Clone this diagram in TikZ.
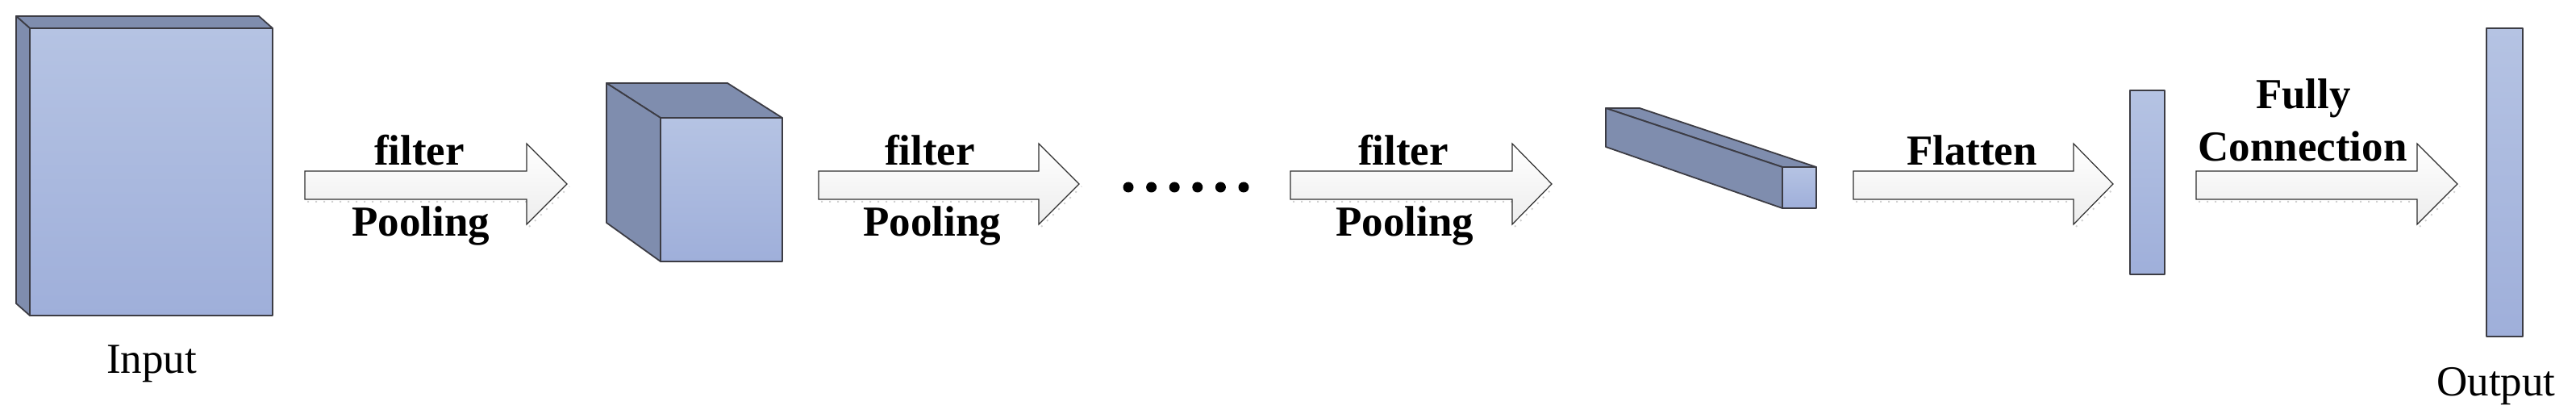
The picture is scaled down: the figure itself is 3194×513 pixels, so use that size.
\documentclass[tikz,border=0pt]{standalone}
\usepackage{fontspec}
\setmainfont{Liberation Serif}
\definecolor{sidec}{HTML}{7F8DAE}
\definecolor{frontt}{HTML}{B5C3E3}
\definecolor{frontb}{HTML}{9FAFDA}
\definecolor{edgec}{HTML}{3C3C44}
\definecolor{arrb}{HTML}{EDEDED}
\definecolor{arredge}{HTML}{303030}
\tikzset{
  sideface/.style={fill=sidec, draw=edgec, line width=0.45pt, line join=round},
  frontface/.style={top color=frontt, bottom color=frontb, draw=edgec, line width=0.45pt, line join=round},
  blockarrow/.style={top color=white, bottom color=arrb, draw=arredge, line width=0.3pt, line join=miter},
  arrshadow/.style={draw=black!18, line width=0.5pt, dotted},
  lab/.style={font=\bfseries\fontsize{13.25}{16.25}\selectfont, inner sep=0pt, anchor=base},
  capt/.style={font=\fontsize{13.25}{16.25}\selectfont, inner sep=0pt, anchor=base},
}
\newcommand\myblockarrow[4]{%
  \draw[arrshadow] (#2+3,250) -- (#3+3,250) (#3+3,281) -- (#4+3,231);
  \draw[blockarrow] (#2,212) coordinate (#1s) -- (#3,212) -- (#3,178) -- (#4,228) coordinate (#1t) -- (#3,278) -- (#3,247) -- (#2,247) -- cycle;
}
\begin{document}
\begin{tikzpicture}[x=0.25pt, y=-0.25pt]
\useasboundingbox (0,0) rectangle (3194,513);

% Input volume
\draw[sideface] (20,20) -- (321,20) -- (338,35) -- (37,35) -- cycle;
\draw[sideface] (20,20) -- (37,35) -- (37,391) -- (20,376) -- cycle;
\draw[frontface] (37,35) rectangle (338,391);
\node[capt] (inlab) at (188,463) {Input};

% Arrow 1
\myblockarrow{a1}{378}{653}{703}
\node[lab] (f1) at (520,205) {filter};
\node[lab] (p1) at (522,293) {Pooling};

% Cube 2
\draw[sideface] (752,103) -- (902,103) -- (970,146) -- (819,146) -- cycle;
\draw[sideface] (752,103) -- (819,146) -- (819,324) -- (752,276) -- cycle;
\draw[frontface] (819,146) rectangle (970,324);

% Arrow 2
\myblockarrow{a2}{1015}{1288}{1338}
\node[lab] (f2) at (1153,205) {filter};
\node[lab] (p2) at (1156,293) {Pooling};

% dots
\foreach \i in {0,...,5} \fill (1399+28.6*\i,232) circle (6.5);

% Arrow 3
\myblockarrow{a3}{1600}{1875}{1924}
\node[lab] (f3) at (1740,205) {filter};
\node[lab] (p3) at (1742,293) {Pooling};

% slanted bar
\draw[sideface] (1991,134) -- (2033,134) -- (2252,207) -- (2210,207) -- cycle;
\draw[sideface] (1991,134) -- (2210,207) -- (2210,258) -- (1991,182) -- cycle;
\draw[frontface] (2210,207) rectangle (2252,258);

% Arrow 4
\myblockarrow{a4}{2298}{2571}{2620}
\node[lab] (fl) at (2445,205) {Flatten};

% flat vector
\draw[frontface] (2641,112) rectangle (2684,340);

% Arrow 5
\myblockarrow{a5}{2723}{2997}{3047}
\node[lab] (fc1) at (2856,135) {Fully};
\node[lab] (fc2) at (2855,200) {Connection};

% output vector
\draw[frontface] (3083,35) rectangle (3128,417);
\node[capt] (outlab) at (3095,490) {Output};
\end{tikzpicture}
\end{document}
